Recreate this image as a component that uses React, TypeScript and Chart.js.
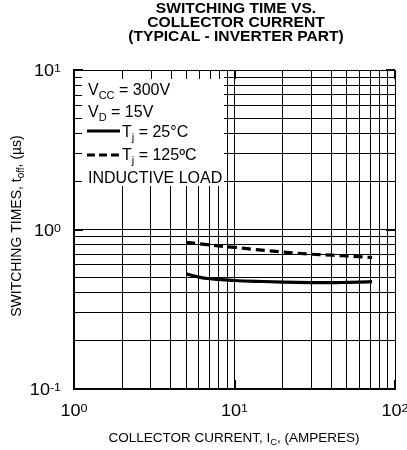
import React, { useEffect, useRef } from "react";
import { Chart, registerables } from "chart.js";

Chart.register(...registerables);

const FONT = '"Liberation Sans", Arial, Helvetica, sans-serif';

const titleLines = ["SWITCHING TIME VS.", "COLLECTOR CURRENT", "(TYPICAL - INVERTER PART)"];

const xTickValues = [1, 2, 3, 4, 5, 6, 7, 8, 9, 10, 20, 30, 40, 50, 60, 70, 80, 90, 100];
const yTickValues = [0.1, 0.2, 0.3, 0.4, 0.5, 0.6, 0.7, 0.8, 0.9, 1, 2, 3, 4, 5, 6, 7, 8, 9, 10];
const xMajorTicks = [1, 10, 100];
const xMajorExp = ["0", "1", "2"];
const yMajorTicks = [10, 1, 0.1];
const yMajorExp = ["1", "0", "-1"];

// Tj = 25°C
const currentT25 = [5, 6, 7, 8, 10, 15, 20, 30, 40, 50, 60, 72];
const toffT25 = [0.527, 0.503, 0.491, 0.486, 0.479, 0.472, 0.468, 0.465, 0.464, 0.466, 0.468, 0.471];
// Tj = 125°C
const currentT125 = [5, 7, 10, 20, 30, 40, 50, 72];
const toffT125 = [0.832, 0.8, 0.772, 0.722, 0.7, 0.691, 0.682, 0.667];

type Part = { t: string; s: number; dy?: number; b?: boolean };

function drawRich(
  ctx: CanvasRenderingContext2D,
  parts: Part[],
  x: number,
  y: number,
  align: "left" | "center" | "right",
  sx = 1
) {
  let w = 0;
  const widths: number[] = [];
  for (const p of parts) {
    ctx.font = `${p.b ? "bold " : ""}${p.s}px ${FONT}`;
    const mw = ctx.measureText(p.t).width;
    widths.push(mw);
    w += mw;
  }
  const tw = w * sx;
  const x0 = align === "left" ? x : align === "center" ? x - tw / 2 : x - tw;
  ctx.save();
  ctx.translate(x0, y);
  ctx.scale(sx, 1);
  ctx.textAlign = "left";
  ctx.textBaseline = "alphabetic";
  let cx = 0;
  parts.forEach((p, i) => {
    ctx.font = `${p.b ? "bold " : ""}${p.s}px ${FONT}`;
    ctx.fillText(p.t, cx, p.dy || 0);
    cx += widths[i];
  });
  ctx.restore();
}

const decorPlugin = {
  id: "decor",
  afterDraw(chart: any) {
    const ctx: CanvasRenderingContext2D = chart.ctx;
    const xs = chart.scales.x;
    const ys = chart.scales.y;
    const { left, right, top, bottom } = chart.chartArea;
    ctx.save();
    ctx.fillStyle = "#000";
    ctx.strokeStyle = "#000";

    // Title
    titleLines.forEach((line, i) => {
      drawRich(ctx, [{ t: line, s: 15, b: true }], 236, 13 + i * 14, "center", 1.04);
    });

    // Legend box (white panel in the upper-left)
    const boxRight = 224;
    const boxBottom = 186;
    ctx.fillStyle = "#fff";
    ctx.fillRect(left + 1, top + 1, boxRight - left - 1, boxBottom - top - 1);
    ctx.fillStyle = "#000";

    // minor ticks inside the box
    ctx.lineWidth = 1;
    ctx.beginPath();
    for (const v of yTickValues) {
      const py = Math.round(ys.getPixelForValue(v)) + 0.5;
      if (py > top + 2 && py < boxBottom) {
        ctx.moveTo(left, py);
        ctx.lineTo(left + 8, py);
      }
    }
    for (const v of xTickValues) {
      const px = Math.round(xs.getPixelForValue(v)) + 0.5;
      if (px > left + 2 && px < boxRight) {
        ctx.moveTo(px, top);
        ctx.lineTo(px, top + 9);
      }
    }
    ctx.stroke();

    // major tick marks (thicker)
    ctx.lineWidth = 2;
    ctx.beginPath();
    for (const v of xMajorTicks) {
      const px = Math.round(xs.getPixelForValue(v));
      ctx.moveTo(px, top);
      ctx.lineTo(px, top + 9);
      ctx.moveTo(px, bottom);
      ctx.lineTo(px, bottom - 9);
    }
    for (const v of yMajorTicks) {
      const py = Math.round(ys.getPixelForValue(v));
      ctx.moveTo(left, py);
      ctx.lineTo(left + 9, py);
      ctx.moveTo(right, py);
      ctx.lineTo(right - 9, py);
    }
    ctx.stroke();

    // Legend text
    drawRich(ctx, [{ t: "V", s: 16 }, { t: "CC", s: 11, dy: 4 }, { t: " = 300V", s: 16 }], 88, 95, "left");
    drawRich(ctx, [{ t: "V", s: 16 }, { t: "D", s: 11, dy: 4 }, { t: " = 15V", s: 16 }], 88, 117, "left");
    ctx.lineWidth = 3;
    ctx.beginPath();
    ctx.moveTo(87, 131);
    ctx.lineTo(120, 131);
    ctx.stroke();
    drawRich(ctx, [{ t: "T", s: 16 }, { t: "j", s: 11, dy: 4 }, { t: " = 25°C", s: 16 }], 122, 137, "left");
    ctx.setLineDash([8, 4]);
    ctx.beginPath();
    ctx.moveTo(87, 155);
    ctx.lineTo(121, 155);
    ctx.stroke();
    ctx.setLineDash([]);
    drawRich(ctx, [{ t: "T", s: 16 }, { t: "j", s: 11, dy: 4 }, { t: " = 125ºC", s: 16 }], 122, 160, "left");
    drawRich(ctx, [{ t: "INDUCTIVE LOAD", s: 16 }], 88, 183, "left");

    // X tick labels
    xMajorTicks.forEach((v, i) => {
      const px = xs.getPixelForValue(v);
      drawRich(ctx, [{ t: "10", s: 16 }, { t: xMajorExp[i], s: 11, dy: -4 }], px, 416, "center", 1.13);
    });
    // Y tick labels
    yMajorTicks.forEach((v, i) => {
      const py = ys.getPixelForValue(v);
      drawRich(ctx, [{ t: "10", s: 16 }, { t: yMajorExp[i], s: 11, dy: -4 }], 61, py + 6, "right", 1.13);
    });

    // X axis title
    drawRich(
      ctx,
      [
        { t: "COLLECTOR CURRENT, I", s: 13.5 },
        { t: "C", s: 9.5, dy: 3 },
        { t: ", (AMPERES)", s: 13.5 },
      ],
      234,
      442,
      "center"
    );

    // Y axis title (rotated)
    ctx.save();
    ctx.translate(21, 226);
    ctx.rotate(-Math.PI / 2);
    drawRich(
      ctx,
      [
        { t: "SWITCHING TIMES, t", s: 14 },
        { t: "off", s: 10, dy: 3 },
        { t: ", (µs)", s: 14 },
      ],
      0,
      0,
      "center"
    );
    ctx.restore();

    ctx.restore();
  },
};

export default function App() {
  const canvasRef = useRef<HTMLCanvasElement | null>(null);

  useEffect(() => {
    if (!canvasRef.current) return;
    const chart = new Chart(canvasRef.current, {
      type: "line",
      data: {
        datasets: [
          {
            label: "Tj = 25°C",
            data: currentT25.map((x, i) => ({ x, y: toffT25[i] })),
            borderColor: "#000",
            borderWidth: 3.2,
            pointRadius: 0,
            cubicInterpolationMode: "monotone",
            fill: false,
          },
          {
            label: "Tj = 125°C",
            data: currentT125.map((x, i) => ({ x, y: toffT125[i] })),
            borderColor: "#000",
            borderWidth: 3.2,
            borderDash: [9, 5],
            pointRadius: 0,
            cubicInterpolationMode: "monotone",
            fill: false,
          },
        ],
      },
      options: {
        responsive: false,
        animation: false,
        devicePixelRatio: 1,
        layout: { padding: { left: 74, right: 12, top: 70, bottom: 61 } },
        plugins: {
          legend: { display: false },
          title: { display: false },
          tooltip: { enabled: false },
        },
        scales: {
          x: {
            type: "logarithmic",
            min: 1,
            max: 100,
            afterBuildTicks: (scale: any) => {
              scale.ticks = xTickValues.map((v) => ({ value: v }));
            },
            ticks: { display: false },
            grid: { color: "#000", lineWidth: 1, drawTicks: false },
            border: { color: "#000", width: 2 },
          },
          y: {
            type: "logarithmic",
            min: 0.1,
            max: 10,
            afterBuildTicks: (scale: any) => {
              scale.ticks = yTickValues.map((v) => ({ value: v }));
            },
            ticks: { display: false },
            grid: { color: "#000", lineWidth: 1, drawTicks: false },
            border: { color: "#000", width: 2 },
          },
        },
      } as any,
      plugins: [decorPlugin],
    });
    return () => chart.destroy();
  }, []);

  return (
    <div style={{ position: "absolute", left: 0, top: 0, width: 407, height: 450, background: "#fff" }}>
      <canvas ref={canvasRef} width={407} height={450} style={{ display: "block" }} />
    </div>
  );
}
